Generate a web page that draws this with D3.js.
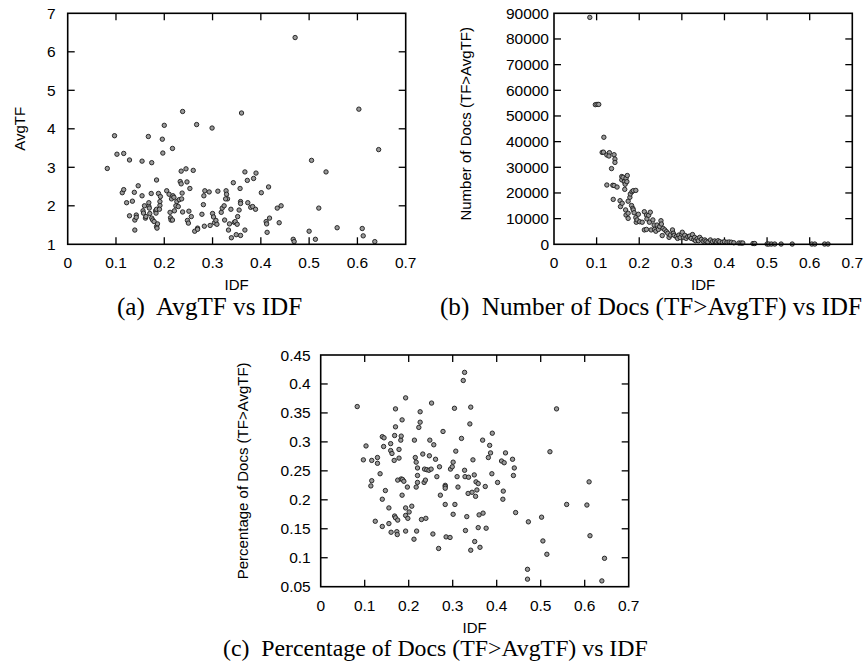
<!DOCTYPE html>
<html>
<head>
<meta charset="utf-8">
<script src="https://cdn.jsdelivr.net/npm/d3@7"></script>
<style>
  body { margin: 0; background: #fff; }
  svg { display: block; }
  .tick-label { font-family: "Liberation Sans", Arial, sans-serif; font-size: 15.5px; fill: #000; }
  .axis-label { font-family: "Liberation Sans", Arial, sans-serif; font-size: 15px; fill: #000; }
  .caption { font-family: "Liberation Serif", "Times New Roman", serif; font-size: 20px; fill: #000; }
</style>
</head>
<body>
<svg id="fig" width="866" height="669"></svg>
<script>
/* Tre scatter plot stile gnuplot: AvgTF, Number of Docs, Percentage vs IDF */

const xTicks = [0, 0.1, 0.2, 0.3, 0.4, 0.5, 0.6, 0.7];
const yTicksA = [1, 2, 3, 4, 5, 6, 7];
const yTicksB = [0, 10000, 20000, 30000, 40000, 50000, 60000, 70000, 80000, 90000];
const yTicksC = [0.05, 0.1, 0.15, 0.2, 0.25, 0.3, 0.35, 0.4, 0.45];

// (a) AvgTF vs IDF
const idfA = [0.082,0.097,0.102,0.116,0.113,0.116,0.122,0.128,0.128,0.134,0.138,0.139,0.139,0.142,0.142,0.146,0.154,0.154,0.156,0.157,
  0.159,0.161,0.162,0.167,0.168,0.168,0.170,0.169,0.173,0.174,0.174,0.176,0.179,0.182,0.183,0.184,0.184,0.186,0.184,0.185,
  0.188,0.191,0.191,0.192,0.190,0.196,0.197,0.200,0.205,0.210,0.212,0.213,0.214,0.215,0.217,0.217,0.218,0.220,0.221,0.224,
  0.226,0.229,0.231,0.233,0.235,0.236,0.237,0.238,0.235,0.238,0.245,0.247,0.248,0.250,0.251,0.253,0.256,0.260,0.263,0.267,
  0.269,0.269,0.278,0.281,0.282,0.284,0.283,0.293,0.295,0.299,0.300,0.302,0.304,0.307,0.309,0.311,0.318,0.320,0.324,0.325,
  0.328,0.329,0.331,0.327,0.333,0.335,0.338,0.339,0.343,0.345,0.347,0.349,0.351,0.352,0.355,0.357,0.358,0.358,0.358,0.360,
  0.367,0.367,0.372,0.373,0.379,0.383,0.385,0.389,0.390,0.401,0.411,0.412,0.413,0.416,0.418,0.434,0.438,0.442,0.467,0.469,
  0.471,0.500,0.505,0.513,0.520,0.535,0.558,0.603,0.610,0.612,0.636,0.644];
const avgTF = [2.97,3.82,3.34,3.36,2.34,2.42,2.08,3.19,1.74,2.12,2.35,1.63,1.37,1.76,1.70,2.52,3.16,2.26,1.87,1.81,
  2.00,1.68,1.72,3.80,1.99,2.08,1.80,1.94,2.32,3.12,1.68,1.63,1.59,1.87,1.81,2.67,1.46,1.53,1.91,1.42,
  2.32,2.01,2.11,2.24,1.91,3.73,3.37,4.09,2.39,2.30,1.83,1.69,1.63,2.18,1.63,3.49,2.26,2.22,1.87,2.00,
  2.11,1.98,2.16,2.63,2.90,2.18,2.33,4.45,2.57,1.84,2.96,2.62,1.62,1.55,1.86,2.45,1.72,2.92,1.34,4.11,
  1.42,1.39,1.78,2.03,2.26,2.39,1.47,2.36,1.49,4.02,1.80,1.71,1.56,1.62,1.52,2.38,1.83,1.94,2.00,1.63,
  2.39,2.30,2.18,2.18,1.37,1.53,1.91,1.17,2.60,1.57,1.59,1.25,1.52,1.72,1.89,2.45,1.23,2.11,2.06,4.41,
  2.88,1.37,2.66,2.08,1.96,1.98,2.71,1.91,2.85,2.34,1.59,1.53,1.31,2.49,1.68,1.94,1.56,2.00,1.13,1.07,
  6.37,1.34,3.18,1.13,1.94,2.88,1.43,4.51,1.41,1.22,1.07,3.46];

// (b) Number of Docs (TF>AvgTF) vs IDF
const idfB = [0.084,0.097,0.101,0.105,0.117,0.113,0.116,0.124,0.130,0.129,0.135,0.141,0.143,0.143,0.124,0.138,0.141,0.148,0.139,0.155,
  0.156,0.159,0.159,0.162,0.165,0.167,0.169,0.172,0.171,0.166,0.160,0.168,0.169,0.174,0.174,0.174,0.178,0.179,0.183,0.186,
  0.192,0.182,0.185,0.186,0.188,0.192,0.193,0.195,0.198,0.201,0.207,0.212,0.217,0.212,0.217,0.218,0.222,0.226,0.224,0.228,
  0.232,0.235,0.236,0.239,0.242,0.245,0.248,0.251,0.252,0.254,0.256,0.260,0.264,0.267,0.270,0.273,0.278,0.280,0.282,0.287,
  0.290,0.293,0.296,0.300,0.301,0.304,0.307,0.310,0.314,0.318,0.322,0.325,0.328,0.330,0.332,0.336,0.339,0.342,0.346,0.350,
  0.354,0.357,0.361,0.367,0.372,0.377,0.381,0.385,0.389,0.395,0.400,0.406,0.411,0.416,0.422,0.434,0.439,0.443,0.467,0.471,
  0.500,0.504,0.510,0.518,0.533,0.559,0.605,0.612,0.635,0.643];
const numDocs = [88400,54400,54500,54500,41700,35800,35900,34800,35700,34400,29500,34900,33200,31900,23100,23000,22900,22300,17500,17000,
  14700,26400,25100,26100,24400,23400,25700,26800,24400,21400,16000,13400,11400,10100,12100,16800,18300,19600,20500,20900,
  21000,15100,14000,13400,12300,10400,8600,9500,11700,8800,8600,5600,5800,12700,11400,9900,11300,12500,8600,5600,
  9500,7500,5800,5100,7500,5800,6900,9200,7900,3400,6200,5600,4900,4300,2700,3600,5600,4300,3500,3000,
  2300,3600,2600,3900,4700,2700,3500,2300,3000,3200,2300,3800,1900,2700,1400,2200,1400,2700,1900,1200,
  1700,1200,800,1700,1000,1300,900,1400,1000,800,1000,800,900,800,600,500,500,500,300,300,
  100,100,100,100,100,100,100,100,100,100];

// (c) Percentage of Docs (TF>AvgTF) vs IDF
const idfC = [0.083,0.103,0.097,0.116,0.129,0.129,0.116,0.114,0.135,0.140,0.144,0.143,0.140,0.147,0.124,0.140,0.155,0.155,0.159,0.159,
  0.162,0.160,0.167,0.168,0.170,0.170,0.168,0.170,0.173,0.174,0.175,0.175,0.178,0.178,0.182,0.183,0.185,0.183,0.186,0.189,
  0.185,0.193,0.193,0.193,0.193,0.197,0.198,0.201,0.207,0.212,0.213,0.215,0.217,0.217,0.218,0.220,0.220,0.220,0.223,0.226,
  0.226,0.229,0.232,0.235,0.236,0.238,0.239,0.241,0.246,0.251,0.247,0.248,0.252,0.255,0.257,0.261,0.264,0.268,0.270,0.272,
  0.278,0.283,0.283,0.283,0.283,0.285,0.294,0.295,0.299,0.301,0.301,0.304,0.305,0.307,0.310,0.312,0.320,0.324,0.327,0.327,
  0.328,0.329,0.332,0.335,0.336,0.339,0.341,0.341,0.344,0.346,0.349,0.350,0.352,0.353,0.355,0.358,0.358,0.360,0.362,0.368,
  0.369,0.374,0.376,0.381,0.384,0.386,0.389,0.390,0.402,0.411,0.414,0.415,0.417,0.420,0.436,0.438,0.440,0.443,0.470,0.470,
  0.472,0.502,0.505,0.514,0.521,0.536,0.559,0.605,0.610,0.612,0.639,0.645];
const pctDocs = [0.361,0.293,0.269,0.268,0.273,0.263,0.233,0.224,0.245,0.309,0.307,0.292,0.201,0.216,0.163,0.154,0.159,0.186,0.297,0.285,
  0.280,0.144,0.268,0.311,0.326,0.357,0.172,0.169,0.145,0.140,0.234,0.165,0.287,0.272,0.303,0.310,0.338,0.236,0.235,0.232,
  0.208,0.376,0.186,0.173,0.146,0.222,0.168,0.179,0.189,0.132,0.303,0.273,0.265,0.222,0.146,0.255,0.242,0.230,0.325,0.334,
  0.352,0.166,0.279,0.230,0.253,0.234,0.168,0.252,0.251,0.253,0.276,0.303,0.367,0.141,0.295,0.270,0.240,0.116,0.257,0.208,
  0.318,0.225,0.223,0.220,0.192,0.136,0.135,0.253,0.257,0.265,0.175,0.358,0.192,0.284,0.240,0.222,0.306,0.406,0.420,0.251,
  0.240,0.147,0.171,0.211,0.239,0.331,0.360,0.113,0.213,0.269,0.243,0.128,0.206,0.231,0.217,0.228,0.152,0.174,0.118,0.303,
  0.177,0.223,0.151,0.273,0.294,0.281,0.245,0.315,0.230,0.267,0.201,0.215,0.264,0.281,0.270,0.242,0.255,0.178,0.080,0.063,
  0.162,0.170,0.129,0.106,0.283,0.357,0.192,0.191,0.231,0.138,0.060,0.099];

const svg = d3.select("#fig");
const TICK = 7;
let captionSize = 20;

function fmtX(d) { return d === 0 ? "0" : d3.format(".1f")(d); }

function drawPanel(p) {
  const { left, right, top, bottom } = p.box;
  const x = d3.scaleLinear().domain([0, 0.7]).range([left, right]);
  const y = d3.scaleLinear().domain(p.yDomain).range([bottom, top]);
  const g = svg.append("g");

  // tick interni su tutti e quattro i lati (mirror)
  const ticks = g.append("g").attr("stroke", "#000").attr("stroke-width", 1.3);
  xTicks.slice(1, -1).forEach(t => {
    ticks.append("line").attr("x1", x(t)).attr("x2", x(t)).attr("y1", bottom).attr("y2", bottom - TICK);
    ticks.append("line").attr("x1", x(t)).attr("x2", x(t)).attr("y1", top).attr("y2", top + TICK);
  });
  p.yTicks.slice(1, -1).forEach(t => {
    ticks.append("line").attr("x1", left).attr("x2", left + TICK).attr("y1", y(t)).attr("y2", y(t));
    ticks.append("line").attr("x1", right).attr("x2", right - TICK).attr("y1", y(t)).attr("y2", y(t));
  });

  g.selectAll("text.xt").data(xTicks).join("text")
    .attr("class", "tick-label")
    .attr("x", d => x(d)).attr("y", bottom + 24)
    .attr("text-anchor", "middle")
    .text(fmtX);

  g.selectAll("text.yt").data(p.yTicks).join("text")
    .attr("class", "tick-label")
    .attr("x", left - p.yLabelGap).attr("y", d => y(d) + 5.5)
    .attr("text-anchor", "end")
    .text(p.yFmt);

  // punti
  g.append("g").selectAll("circle").data(p.xs).join("circle")
    .attr("cx", d => x(d))
    .attr("cy", (d, i) => y(p.ys[i]))
    .attr("r", 2.2)
    .attr("fill", "#9a9a9a")
    .attr("stroke", "#1a1a1a")
    .attr("stroke-width", 0.9);

  g.append("rect")
    .attr("x", left).attr("y", top)
    .attr("width", right - left).attr("height", bottom - top)
    .attr("fill", "none").attr("stroke", "#000").attr("stroke-width", 1.6);

  g.append("text").attr("class", "axis-label")
    .attr("x", (left + right) / 2).attr("y", bottom + 46)
    .attr("text-anchor", "middle").text("IDF");

  g.append("text").attr("class", "axis-label")
    .attr("transform", `translate(${p.yTitleX},${(top + bottom) / 2 + p.yTitleDy}) rotate(-90)`)
    .attr("text-anchor", "middle").text(p.yTitle);

  // didascalia: se c'e' una larghezza di riferimento la dimensione si adatta
  const cap = g.append("text").attr("class", "caption")
    .attr("x", p.caption.x).attr("y", p.caption.y)
    .attr("xml:space", "preserve")
    .text(p.caption.text);
  if (p.caption.w) {
    const w = cap.node().getComputedTextLength();
    if (w > 0) captionSize = 20 * p.caption.w / w;
  }
  cap.style("font-size", captionSize.toFixed(2) + "px");
}

drawPanel({
  box: { left: 554, right: 852.3, top: 13.3, bottom: 244.3 },
  yDomain: [0, 90000], yTicks: yTicksB, yFmt: d => String(d), yLabelGap: 5,
  xs: idfB, ys: numDocs,
  yTitle: "Number of Docs (TF>AvgTF)", yTitleX: 471, yTitleDy: -5,
  caption: { text: "(b)  Number of Docs (TF>AvgTF) vs IDF", x: 440, y: 315, w: 422 }
});

drawPanel({
  box: { left: 67.7, right: 405.7, top: 13.3, bottom: 244.3 },
  yDomain: [1, 7], yTicks: yTicksA, yFmt: d => String(d), yLabelGap: 12,
  xs: idfA, ys: avgTF,
  yTitle: "AvgTF", yTitleX: 25, yTitleDy: 0,
  caption: { text: "(a)  AvgTF vs IDF", x: 117, y: 315 }
});

drawPanel({
  box: { left: 320.7, right: 628.7, top: 355, bottom: 586.7 },
  yDomain: [0.05, 0.45], yTicks: yTicksC, yFmt: d => String(+d.toFixed(2)), yLabelGap: 10,
  xs: idfC, ys: pctDocs,
  yTitle: "Percentage of Docs (TF>AvgTF)", yTitleX: 248, yTitleDy: 0,
  caption: { text: "(c)  Percentage of Docs (TF>AvgTF) vs IDF", x: 223, y: 656, w: 425 }
});
</script>
</body>
</html>
